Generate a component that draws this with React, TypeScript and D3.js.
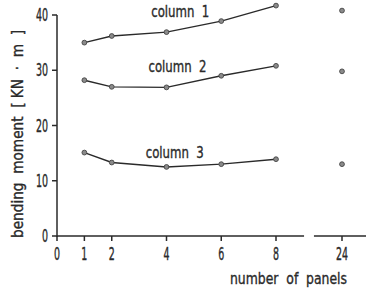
import * as d3 from "d3";
import { useEffect, useRef } from "react";

const width = 366;
const height = 291;

const panels = [1, 2, 4, 6, 8];
const column1 = [35, 36.2, 36.9, 38.9, 41.7];
const column2 = [28.2, 27.0, 26.9, 29.0, 30.8];
const column3 = [15.1, 13.3, 12.5, 13.0, 13.9];
const extraPanel = 24;
const extraValues = [40.8, 29.8, 13.0];
const seriesNames = ["column 1", "column 2", "column 3"];
const xTicks = [0, 1, 2, 4, 6, 8, 24];
const yTicks = [0, 10, 20, 30, 40];

const font = "'DejaVu Sans Condensed', 'DejaVu Sans', sans-serif";
const ink = "#2a2a2a";
const nb = (s: string) => s.replace(/ /g, "\u00a0\u00a0");

export default function App() {
  const svgRef = useRef<SVGSVGElement | null>(null);

  useEffect(() => {
    if (!svgRef.current) return;
    const svg = d3.select(svgRef.current);
    svg.selectAll("*").remove();

    const x = d3.scaleLinear().domain([0, 8, 24]).range([57, 276, 342]);
    const y = d3.scaleLinear().domain([0, 40]).range([236, 15]);

    svg.append("rect").attr("width", width).attr("height", height).attr("fill", "#fff");

    // axes
    const axis = svg.append("g").attr("stroke", ink).attr("stroke-width", 1.5).attr("fill", "none");
    axis.append("line").attr("x1", x(0)).attr("x2", x(0)).attr("y1", y(0) + 1).attr("y2", y(40));
    axis.append("line").attr("x1", x(0)).attr("x2", x(14.8)).attr("y1", y(0)).attr("y2", y(0));
    axis.append("line").attr("x1", x(17.2)).attr("x2", width).attr("y1", y(0)).attr("y2", y(0));

    axis
      .selectAll("line.ytick")
      .data(yTicks)
      .join("line")
      .attr("class", "ytick")
      .attr("x1", x(0) - 5)
      .attr("x2", x(0))
      .attr("y1", (d) => y(d))
      .attr("y2", (d) => y(d));

    axis
      .selectAll("line.xtick")
      .data(xTicks)
      .join("line")
      .attr("class", "xtick")
      .attr("x1", (d) => x(d))
      .attr("x2", (d) => x(d))
      .attr("y1", y(0))
      .attr("y2", y(0) + 5);

    const txt = svg
      .append("g")
      .attr("fill", ink)
      .attr("stroke", ink)
      .attr("stroke-width", 0.35)
      .attr("font-family", font);

    const label = (
      tx: number,
      ty: number,
      s: string,
      size: number,
      anchor: string,
      sx: number,
      rot = 0,
      len = 0
    ) => {
      const t = txt
        .append("text")
        .attr("transform", `translate(${tx},${ty}) rotate(${rot}) scale(${sx},1)`)
        .attr("text-anchor", anchor)
        .attr("font-size", size)
        .text(s);
      if (len) t.attr("textLength", len / sx).attr("lengthAdjust", "spacingAndGlyphs");
      return t;
    };

    yTicks.forEach((d) => label(x(0) - 9, y(d) + 6, String(d), 17, "end", 0.62));
    xTicks.forEach((d) => label(x(d), y(0) + 24, String(d), 17, "middle", 0.62));

    label(288.5, 284, nb("number of panels"), 16, "middle", 0.75, 0, 117);
    label(23, 134, nb("bending moment [ KN · m ]").replace(/\u00a0\u00a0\[\u00a0\u00a0/, "\u00a0\u00a0[\u00a0"), 16, "middle", 0.75, -90, 208);

    // series
    const series = [column1, column2, column3];
    const labelPos = [
      { px: 4.5, v: 39.6 },
      { px: 4.4, v: 29.7 },
      { px: 4.3, v: 14.1 },
    ];

    const line = d3
      .line<number>()
      .x((_d, i) => x(panels[i]))
      .y((d) => y(d));

    series.forEach((values, si) => {
      svg
        .append("path")
        .datum(values)
        .attr("d", line)
        .attr("fill", "none")
        .attr("stroke", ink)
        .attr("stroke-width", 1.4);

      svg
        .append("g")
        .selectAll("circle")
        .data(values)
        .join("circle")
        .attr("cx", (_d, i) => x(panels[i]))
        .attr("cy", (d) => y(d))
        .attr("r", 2.4)
        .attr("fill", "#8a8a8a")
        .attr("stroke", "#444")
        .attr("stroke-width", 0.9);

      svg
        .append("circle")
        .attr("cx", x(extraPanel))
        .attr("cy", y(extraValues[si]))
        .attr("r", 2.4)
        .attr("fill", "#8a8a8a")
        .attr("stroke", "#444")
        .attr("stroke-width", 0.9);

      label(x(labelPos[si].px), y(labelPos[si].v), nb(seriesNames[si]), 16, "middle", 0.75, 0, 58);
    });
  }, []);

  return (
    <svg
      ref={svgRef}
      width={width}
      height={height}
      style={{ position: "absolute", left: 0, top: 0, display: "block" }}
    />
  );
}
